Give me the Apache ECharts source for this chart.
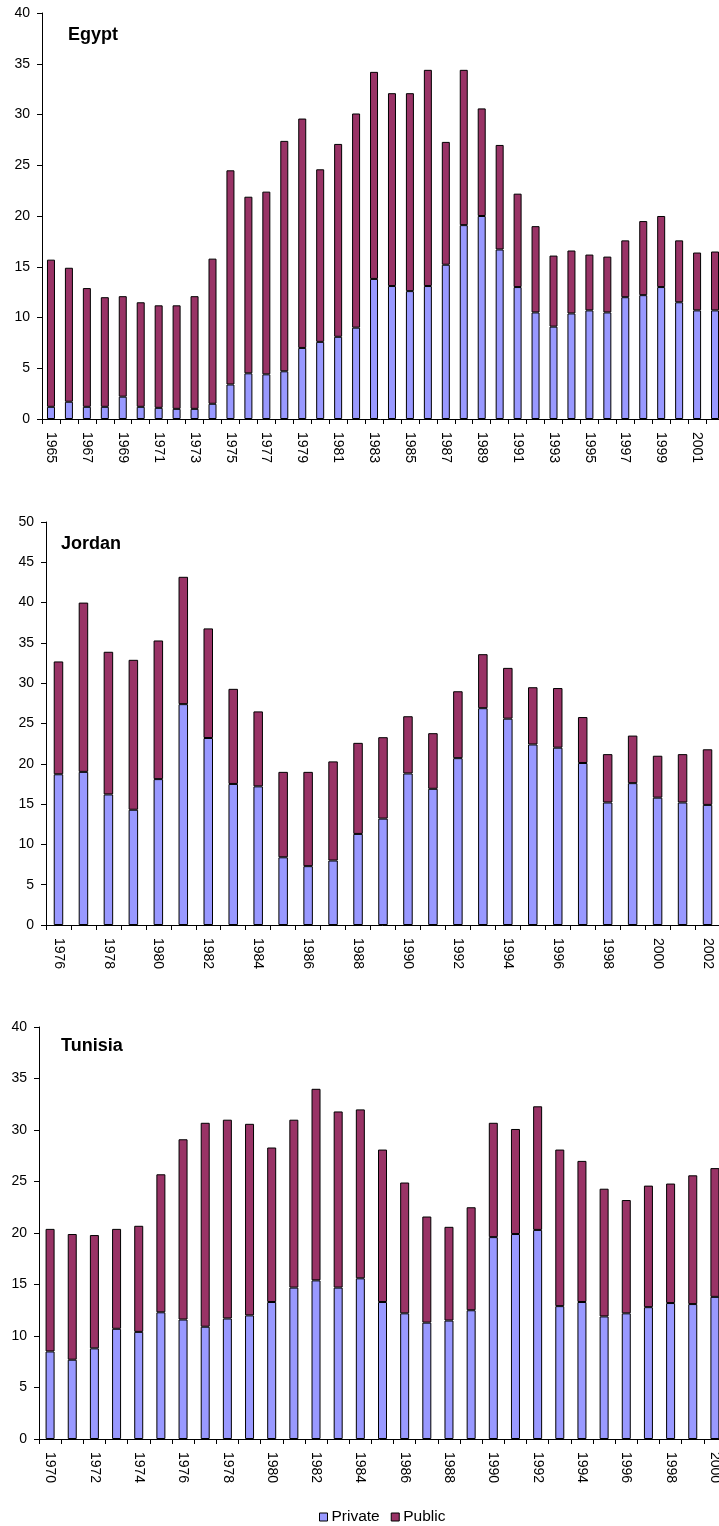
<!DOCTYPE html>
<html>
<head>
<meta charset="utf-8">
<title>Private and public investment</title>
<script src="https://cdn.jsdelivr.net/npm/echarts@6/dist/echarts.min.js"></script>
<style>
  html, body { margin: 0; padding: 0; background: #fff; }
  #chart { width: 719px; height: 1526px; }
</style>
</head>
<body>
<div id="chart"></div>
<script>
// Egypt 1965-2002
const egyptYears = ['1965','1966','1967','1968','1969','1970','1971','1972','1973','1974','1975','1976','1977','1978','1979','1980','1981','1982','1983','1984','1985','1986','1987','1988','1989','1990','1991','1992','1993','1994','1995','1996','1997','1998','1999','2000','2001','2002']
const egyptPrivate = [1.2, 1.7, 1.2, 1.2, 2.2, 1.2, 1.1, 1.0, 1.0, 1.5, 3.4, 4.5, 4.4, 4.7, 7.0, 7.6, 8.1, 9.0, 13.8, 13.1, 12.6, 13.1, 15.2, 19.1, 20.0, 16.7, 13.0, 10.5, 9.1, 10.4, 10.7, 10.5, 12.0, 12.2, 13.0, 11.5, 10.7, 10.7]
const egyptPublic = [14.5, 13.2, 11.7, 10.8, 9.9, 10.3, 10.1, 10.2, 11.1, 14.3, 21.1, 17.4, 18.0, 22.7, 22.6, 17.0, 19.0, 21.1, 20.4, 19.0, 19.5, 21.3, 12.1, 15.3, 10.6, 10.3, 9.2, 8.5, 7.0, 6.2, 5.5, 5.5, 5.6, 7.3, 7.0, 6.1, 5.7, 5.8]

// Jordan 1976-2002
const jordanYears = ['1976','1977','1978','1979','1980','1981','1982','1983','1984','1985','1986','1987','1988','1989','1990','1991','1992','1993','1994','1995','1996','1997','1998','1999','2000','2001','2002']
const jordanPrivate = [18.7, 19.0, 16.2, 14.3, 18.1, 27.4, 23.2, 17.5, 17.2, 8.4, 7.3, 8.0, 11.3, 13.2, 18.8, 16.9, 20.7, 26.9, 25.6, 22.4, 22.0, 20.1, 15.2, 17.6, 15.8, 15.2, 14.9]
const jordanPublic = [14.0, 21.0, 17.7, 18.6, 17.2, 15.8, 13.6, 11.8, 9.3, 10.6, 11.7, 12.3, 11.3, 10.1, 7.1, 6.9, 8.3, 6.7, 6.3, 7.1, 7.4, 5.7, 6.0, 5.9, 5.2, 6.0, 6.9]

// Tunisia 1970-2000
const tunisiaYears = ['1970','1971','1972','1973','1974','1975','1976','1977','1978','1979','1980','1981','1982','1983','1984','1985','1986','1987','1988','1989','1990','1991','1992','1993','1994','1995','1996','1997','1998','1999','2000']
const tunisiaPrivate = [8.5, 7.7, 8.8, 10.7, 10.4, 12.3, 11.6, 10.9, 11.7, 12.0, 13.3, 14.7, 15.4, 14.7, 15.6, 13.3, 12.2, 11.3, 11.5, 12.5, 19.6, 19.9, 20.3, 12.9, 13.3, 11.9, 12.2, 12.8, 13.2, 13.1, 13.8]
const tunisiaPublic = [11.9, 12.2, 11.0, 9.7, 10.3, 13.4, 17.5, 19.8, 19.3, 18.6, 15.0, 16.3, 18.6, 17.1, 16.4, 14.8, 12.7, 10.3, 9.1, 10.0, 11.1, 10.2, 12.0, 15.2, 13.7, 12.4, 11.0, 11.8, 11.6, 12.5, 12.5]

const countries = ['Egypt', 'Jordan', 'Tunisia']
const yMax = [40, 50, 40]

const FONT = '"Liberation Sans", Arial, sans-serif'
const PRIVATE_COLOR = '#9999ff'
const PUBLIC_COLOR = '#993366'

const chart = echarts.init(document.getElementById('chart'), null, { renderer: 'canvas' })

// one grid per panel, the right side runs past the picture edge like the original
const grids = [
  { left: 42, top: 13, width: 682, height: 406, outerBoundsMode: 'none' },
  { left: 46, top: 522, width: 674, height: 403, outerBoundsMode: 'none' },
  { left: 39, top: 1027, width: 687, height: 412, outerBoundsMode: 'none' }
]
const titlePos = [
  { left: 68, top: 26 },
  { left: 61, top: 535 },
  { left: 61, top: 1037 }
]
const yearLists = [egyptYears, jordanYears, tunisiaYears]
const privateLists = [egyptPrivate, jordanPrivate, tunisiaPrivate]
const publicLists = [egyptPublic, jordanPublic, tunisiaPublic]
const barWidths = [8, 9.5, 9]

const axisLine = { show: true, lineStyle: { color: '#000', width: 1 } }

const xAxis = yearLists.map((years, i) => ({
  type: 'category',
  gridIndex: i,
  data: years,
  boundaryGap: true,
  axisLine: axisLine,
  axisTick: { show: true, interval: 0, length: 5, lineStyle: { color: '#000' } },
  axisLabel: {
    interval: 1,
    rotate: -90,
    margin: 13,
    color: '#000',
    fontFamily: FONT,
    fontSize: 14
  },
  splitLine: { show: false }
}))

const yAxis = yMax.map((max, i) => ({
  type: 'value',
  gridIndex: i,
  min: 0,
  max: max,
  interval: 5,
  axisLine: axisLine,
  axisTick: { show: true, length: 5, lineStyle: { color: '#000' } },
  axisLabel: { margin: 12, color: '#000', fontFamily: FONT, fontSize: 14 },
  splitLine: { show: false }
}))

const series = []
countries.forEach((name, i) => {
  series.push({
    name: 'Private',
    type: 'bar',
    xAxisIndex: i,
    yAxisIndex: i,
    stack: 'total' + i,
    barWidth: barWidths[i],
    data: privateLists[i],
    itemStyle: { color: PRIVATE_COLOR, borderColor: '#000', borderWidth: 1 },
    emphasis: { disabled: true },
    animation: false
  })
  series.push({
    name: 'Public',
    type: 'bar',
    xAxisIndex: i,
    yAxisIndex: i,
    stack: 'total' + i,
    barWidth: barWidths[i],
    data: publicLists[i],
    itemStyle: { color: PUBLIC_COLOR, borderColor: '#000', borderWidth: 1 },
    emphasis: { disabled: true },
    animation: false
  })
})

const option = {
  backgroundColor: '#fff',
  animation: false,
  title: countries.map((name, i) => ({
    text: name,
    left: titlePos[i].left,
    top: titlePos[i].top,
    padding: 0,
    textStyle: { fontFamily: FONT, fontSize: 18, fontWeight: 'bold', color: '#000' }
  })),
  legend: {
    data: ['Private', 'Public'],
    left: 319,
    top: 1509,
    padding: 0,
    itemWidth: 8,
    itemHeight: 8,
    itemGap: 11,
    icon: 'rect',
    itemStyle: { borderColor: '#000', borderWidth: 1 },
    textStyle: { fontFamily: FONT, fontSize: 15.5, color: '#000', padding: [0, 0, 0, -1] }
  },
  grid: grids,
  xAxis: xAxis,
  yAxis: yAxis,
  series: series
}

chart.setOption(option)
</script>
</body>
</html>
